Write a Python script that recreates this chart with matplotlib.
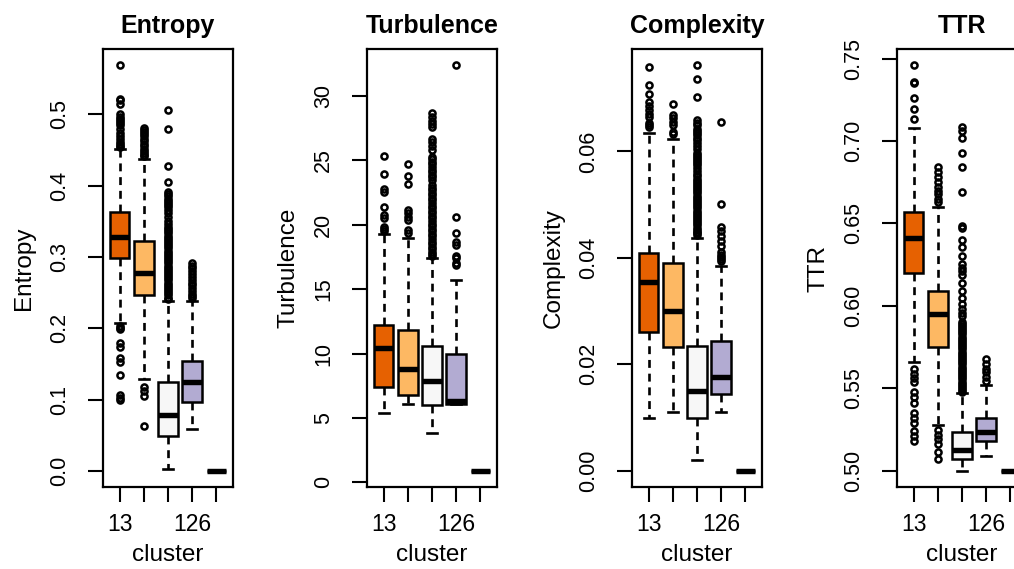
import matplotlib
matplotlib.use("Agg")
import matplotlib.pyplot as plt

plt.rcParams['font.family'] = ['Liberation Sans', 'DejaVu Sans']

# ---------------- data ----------------
clusters = ['13', '', '', '126', '']
box_colors = ['#E66101', '#FDB863', '#F7F7F7', '#B2ABD2', '#5E3C99']
titles = ['Entropy', 'Turbulence', 'Complexity', 'TTR']

# Entropy
entropy_med = [0.328, 0.277, 0.078, 0.125, 0.0]
entropy_q1 = [0.299, 0.246, 0.049, 0.097, 0.0]
entropy_q3 = [0.363, 0.323, 0.125, 0.154, 0.0]
entropy_lo = [0.208, 0.129, 0.003, 0.058, 0.0]
entropy_hi = [0.452, 0.438, 0.238, 0.238, 0.0]
entropy_out = [
    [0.569, 0.522, 0.520, 0.514, 0.500, 0.497, 0.494, 0.491, 0.488, 0.485,
     0.479, 0.474, 0.470, 0.466, 0.461, 0.458, 0.456, 0.454,
     0.2035, 0.201, 0.199, 0.179, 0.173, 0.158, 0.152, 0.135, 0.107, 0.102, 0.099],
    [0.481, 0.478, 0.475, 0.472, 0.469, 0.466, 0.462, 0.458, 0.455, 0.452,
     0.449, 0.446, 0.443, 0.441, 0.118, 0.112, 0.105, 0.063],
    [0.506, 0.480, 0.427, 0.405, 0.391, 0.388, 0.385, 0.382, 0.379, 0.376,
     0.373, 0.370, 0.366, 0.361, 0.356, 0.351, 0.346, 0.342, 0.339, 0.336,
     0.333, 0.330, 0.327, 0.324, 0.321, 0.318, 0.315, 0.312, 0.309, 0.306,
     0.303, 0.300, 0.297, 0.294, 0.291, 0.288, 0.285, 0.282, 0.279, 0.276,
     0.273, 0.270, 0.267, 0.264, 0.261, 0.258, 0.255, 0.252, 0.249, 0.246,
     0.243, 0.241],
    [0.292, 0.288, 0.284, 0.280, 0.276, 0.272, 0.268, 0.264, 0.260, 0.256,
     0.252, 0.248, 0.245, 0.242],
    [],
]
entropy_ticks = [0.0, 0.1, 0.2, 0.3, 0.4, 0.5]
entropy_ticklabels = ['0.0', '0.1', '0.2', '0.3', '0.4', '0.5']

# Turbulence
turb_med = [10.4, 8.8, 7.9, 6.35, 0.9]
turb_q1 = [7.4, 6.76, 6.0, 6.1, 0.9]
turb_q3 = [12.2, 11.8, 10.6, 10.0, 0.9]
turb_lo = [5.35, 6.1, 3.8, 6.1, 0.9]
turb_hi = [19.3, 19.0, 17.4, 15.7, 0.9]
turb_out = [
    [25.35, 23.95, 22.75, 22.55, 21.4, 20.75, 20.55, 19.85, 19.65, 19.5],
    [24.7, 23.8, 23.2, 21.15, 20.95, 20.6, 20.35, 19.6, 19.4],
    [28.7, 28.4, 28.1, 27.8, 27.6, 26.7, 26.4, 26.1, 25.8, 25.3, 25.1, 24.9,
     24.7, 24.5, 24.3, 24.1, 23.9, 23.7, 23.5, 23.1, 22.9, 22.7, 22.5, 22.3,
     22.1, 21.9, 21.7, 21.5, 21.3, 21.1, 20.9, 20.7, 20.5, 20.3, 20.1, 19.9,
     19.7, 19.5, 19.3, 19.1, 18.9, 18.7, 18.5, 18.3, 18.1, 17.9, 17.7, 17.55],
    [32.4, 20.6, 19.35, 18.65, 18.45, 17.6, 17.45, 17.0, 16.85],
    [],
]
turb_ticks = [0, 5, 10, 15, 20, 25, 30]
turb_ticklabels = ['0', '5', '10', '15', '20', '25', '30']

# Complexity
comp_med = [0.0355, 0.030, 0.015, 0.0177, 0.0]
comp_q1 = [0.026, 0.0232, 0.0100, 0.0145, 0.0]
comp_q3 = [0.041, 0.039, 0.0235, 0.0243, 0.0]
comp_lo = [0.010, 0.011, 0.002, 0.011, 0.0]
comp_hi = [0.0635, 0.0623, 0.0438, 0.0385, 0.0]
comp_out = [
    [0.0758, 0.0725, 0.0707, 0.0692, 0.0685, 0.0678, 0.0671, 0.0664, 0.0654,
     0.0650, 0.0646],
    [0.0689, 0.0668, 0.0662, 0.0655, 0.0649, 0.0636, 0.0632],
    [0.0762, 0.0737, 0.0703, 0.0659, 0.0654, 0.0649, 0.0642, 0.0638, 0.0634,
     0.0630, 0.0626, 0.0622, 0.0616, 0.0610, 0.0604, 0.0598, 0.0594, 0.0590,
     0.0586, 0.0582, 0.0578, 0.0574, 0.0569, 0.0563, 0.0558, 0.0553, 0.0549,
     0.0545, 0.0541, 0.0537, 0.0533, 0.0529, 0.0525, 0.0521, 0.0517, 0.0513,
     0.0509, 0.0505, 0.0501, 0.0497, 0.0493, 0.0489, 0.0485, 0.0481, 0.0477,
     0.0473, 0.0469, 0.0465, 0.0461, 0.0457, 0.0453, 0.0449, 0.0446, 0.0443],
    [0.0655, 0.0502, 0.0458, 0.0450, 0.0442, 0.0432, 0.0422, 0.0412, 0.0406,
     0.0402, 0.0398, 0.0395],
    [],
]
comp_ticks = [0.00, 0.02, 0.04, 0.06]
comp_ticklabels = ['0.00', '0.02', '0.04', '0.06']

# TTR
ttr_med = [0.641, 0.595, 0.5126, 0.5236, 0.500]
ttr_q1 = [0.620, 0.575, 0.507, 0.518, 0.500]
ttr_q3 = [0.657, 0.609, 0.5236, 0.532, 0.500]
ttr_lo = [0.566, 0.528, 0.500, 0.509, 0.500]
ttr_hi = [0.708, 0.660, 0.547, 0.552, 0.500]
ttr_out = [
    [0.746, 0.736, 0.735, 0.726, 0.7195, 0.7135,
     0.562, 0.559, 0.556, 0.554, 0.548, 0.545, 0.541, 0.535, 0.532, 0.529,
     0.524, 0.521, 0.518],
    [0.684, 0.681, 0.678, 0.675, 0.672, 0.670, 0.668, 0.665, 0.663,
     0.5245, 0.522, 0.5195, 0.516, 0.5115, 0.507],
    [0.7085, 0.706, 0.702, 0.693, 0.684, 0.669, 0.6485, 0.647, 0.640, 0.636,
     0.630, 0.6255, 0.623, 0.621, 0.619, 0.614, 0.609, 0.605, 0.601, 0.598,
     0.596, 0.594, 0.5905, 0.5892, 0.5879, 0.5866, 0.5853, 0.584, 0.5827,
     0.5814, 0.5801, 0.5788, 0.5775, 0.5762, 0.5749, 0.5736, 0.5723, 0.571,
     0.5697, 0.5684, 0.5671, 0.5658, 0.5645, 0.5632, 0.5619, 0.5606, 0.5593,
     0.558, 0.5567, 0.5554, 0.5541, 0.5528, 0.5515, 0.5502, 0.549, 0.548],
    [0.5675, 0.565, 0.562, 0.560, 0.557, 0.5545],
    [],
]
ttr_ticks = [0.50, 0.55, 0.60, 0.65, 0.70, 0.75]
ttr_ticklabels = ['0.50', '0.55', '0.60', '0.65', '0.70', '0.75']

panels = [
    (entropy_med, entropy_q1, entropy_q3, entropy_lo, entropy_hi, entropy_out,
     entropy_ticks, entropy_ticklabels),
    (turb_med, turb_q1, turb_q3, turb_lo, turb_hi, turb_out,
     turb_ticks, turb_ticklabels),
    (comp_med, comp_q1, comp_q3, comp_lo, comp_hi, comp_out,
     comp_ticks, comp_ticklabels),
    (ttr_med, ttr_q1, ttr_q3, ttr_lo, ttr_hi, ttr_out,
     ttr_ticks, ttr_ticklabels),
]

# ---------------- figure ----------------
W, H = 1014, 569
fig = plt.figure(figsize=(W / 100, H / 100), dpi=100)
lefts_px = [103, 367, 632, 897]
ax_w_px = 130
top_px, bot_px = 49, 487

for i, (med, q1, q3, lo, hi, out, yt, ytl) in enumerate(panels):
    ax = fig.add_axes([lefts_px[i] / W, (H - bot_px) / H, ax_w_px / W,
                       (bot_px - top_px) / H])
    stats = []
    for k in range(len(med)):
        stats.append(dict(med=med[k], q1=q1[k], q3=q3[k], whislo=lo[k],
                          whishi=hi[k], fliers=out[k]))
    bp = ax.bxp(stats, widths=0.8, capwidths=0.4, patch_artist=True,
                manage_ticks=False,
                boxprops=dict(edgecolor='black', linewidth=1.8),
                whiskerprops=dict(color='black', linewidth=1.9,
                                  linestyle=(0, (3.0, 2.2))),
                capprops=dict(color='black', linewidth=1.9),
                medianprops=dict(color='black', linewidth=3.9,
                                 solid_capstyle='butt'),
                flierprops=dict(marker='o', markersize=4.4,
                                markerfacecolor='none',
                                markeredgecolor='black',
                                markeredgewidth=1.8))
    for patch, c in zip(bp['boxes'], box_colors):
        patch.set_facecolor(c)

    # R-style axis limits: data range extended by 4 %
    allv = list(lo) + list(hi)
    for o in out:
        allv += list(o)
    vmin, vmax = min(allv), max(allv)
    pad = 0.04 * (vmax - vmin)
    ax.set_ylim(vmin - pad, vmax + pad)
    n = len(med)
    ax.set_xlim(0.5 - 0.04 * n, n + 0.5 + 0.04 * n)

    ax.set_xticks(range(1, n + 1))
    ax.set_xticklabels(clusters, fontsize=16.5)
    ax.set_yticks(yt)
    ax.set_yticklabels(ytl, fontsize=15.5, rotation=90, va='center')
    ax.tick_params(axis='both', length=10.5, width=1.5, color='black',
                   direction='out')
    ax.tick_params(axis='y', pad=13)
    ax.tick_params(axis='x', pad=8)
    for sp in ax.spines.values():
        sp.set_linewidth(1.6)
        sp.set_color('black')

    ax.set_title(titles[i], fontsize=18, fontweight='bold', pad=11.5)
    ax.set_ylabel(titles[i], fontsize=17.5)
    ax.yaxis.set_label_coords(-0.52, 0.5)
    ax.set_xlabel('cluster', fontsize=17.5)
    ax.xaxis.set_label_coords(0.5, -0.13)

fig.savefig('out.png', dpi=100)
